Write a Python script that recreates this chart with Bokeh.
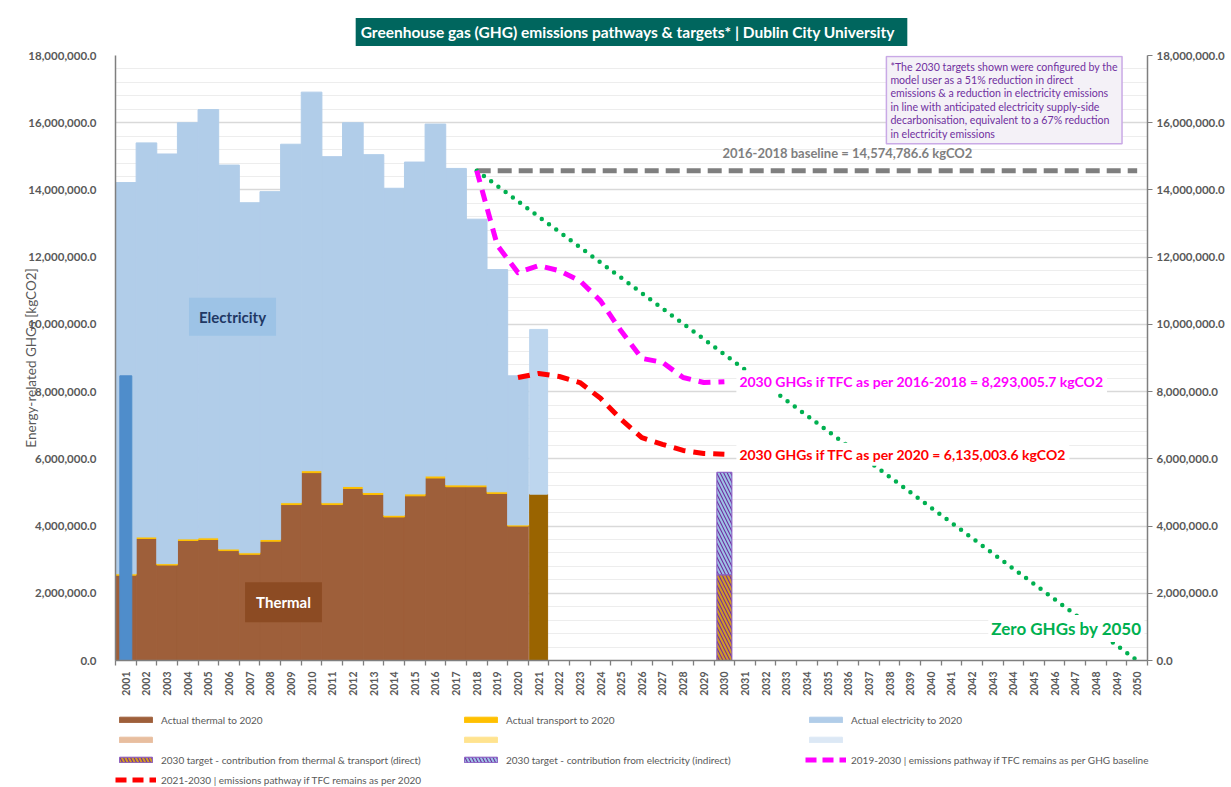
import math
from bokeh.plotting import figure
from bokeh.layouts import column
from bokeh.models import (ColumnDataSource, LinearAxis, FixedTicker, NumeralTickFormatter,
                          Label, Legend, LegendItem, Range1d)
from bokeh.embed import file_html
from bokeh.resources import INLINE

FONT = "Lato"
GRAY = "#595959"

# ---------------- data ----------------
years = [2001, 2002, 2003, 2004, 2005, 2006, 2007, 2008, 2009, 2010,
         2011, 2012, 2013, 2014, 2015, 2016, 2017, 2018, 2019, 2020]
thermal = [2540000, 3630000, 2840000, 3570000, 3600000, 3270000, 3160000, 3550000, 4640000, 5590000,
           4640000, 5120000, 4940000, 4270000, 4900000, 5430000, 5170000, 5170000, 4970000, 4000000]
transport = [40000, 45000, 42000, 48000, 50000, 47000, 46000, 52000, 55000, 58000,
             54000, 60000, 57000, 53000, 56000, 59000, 55000, 52000, 50000, 35000]
electricity = [11640000, 11725000, 12188000, 12382000, 12740000, 11423000, 10414000, 10348000, 10665000, 11262000,
               10296000, 10820000, 10053000, 9727000, 9874000, 10471000, 9415000, 7908000, 6610000, 4435000]

other_year = [2001]
other_value = [8470000]

year_2021 = [2021]
thermal_2021 = [4950000]
electricity_2021 = [4900000]

target_year = [2030]
target_direct = [2550000]
target_indirect = [3050000]

baseline_years = [2018, 2050]
baseline_values = [14574786.6, 14574786.6]

zero_years = [2018, 2050]
zero_values = [14574786.6, 0.0]

pathway_baseline_years = [2018, 2019, 2020, 2021, 2022, 2023, 2024, 2025, 2026, 2027, 2028, 2029, 2030]
pathway_baseline = [14574786.6, 12350000, 11540000, 11750000, 11600000, 11300000, 10700000,
                    9800000, 8990000, 8870000, 8420000, 8270000, 8293005.7]

pathway_2020_years = [2020, 2021, 2022, 2023, 2024, 2025, 2026, 2027, 2028, 2029, 2030]
pathway_2020 = [8420000, 8540000, 8450000, 8270000, 7800000, 7170000, 6630000, 6430000, 6250000,
                6160000, 6135003.6]

axis_years = list(range(2001, 2051))
y_major = list(range(0, 18000001, 2000000))
y_minor = list(range(0, 18000001, 400000))

# ---------------- styles ----------------
C_THERMAL = "#9E5F3A"
C_TRANSPORT = "#FFC000"
C_ELEC = "#B1CDE9"
C_PURPLE = "#7030A0"
HATCH_DIRECT = "#D39B22"
HATCH_INDIRECT = "#9DC3E6"

# ---------------- main figure ----------------
p = figure(frame_width=1032, frame_height=605,
           x_range=Range1d(2000.5, 2050.5), y_range=Range1d(0, 18000000),
           output_backend="svg", toolbar_location=None,
           min_border_left=115, min_border_top=55, min_border_right=80, min_border_bottom=0,
           background_fill_color="white", border_fill_color="white", outline_line_color=None)

# title
p.title.text = "Greenhouse gas (GHG) emissions pathways & targets*  |  Dublin City University"
p.title.align = "center"
p.title.offset = -8
p.title.text_font = FONT
p.title.text_font_size = "15.5px"
p.title.text_font_style = "bold"
p.title.text_color = "white"
p.title.background_fill_color = "#00665E"
p.title.padding = 5
p.title.standoff = 19

# grid
p.xgrid.visible = False
p.ygrid.ticker = FixedTicker(ticks=y_major, minor_ticks=y_minor)
p.ygrid.grid_line_color = "#D9D9D9"
p.ygrid.grid_line_width = 1.3
p.ygrid.minor_grid_line_color = "#EDEDED"

# left axis
p.yaxis.ticker = FixedTicker(ticks=y_major, minor_ticks=y_minor)
p.yaxis.formatter = NumeralTickFormatter(format="0,0.0")
p.yaxis.major_tick_line_color = None
p.yaxis.minor_tick_line_color = None
p.yaxis.axis_line_color = "#7F7F7F"
p.yaxis.axis_line_width = 1.5
p.yaxis.major_label_text_font = FONT
p.yaxis.major_label_text_font_size = "11.5px"
p.yaxis.major_label_text_font_style = "bold"
p.yaxis.major_label_text_color = GRAY
p.yaxis.major_label_standoff = 13
p.yaxis.axis_label = "Energy-related GHGs [kgCO2]"
p.yaxis.axis_label_text_font = FONT
p.yaxis.axis_label_text_font_size = "13.5px"
p.yaxis.axis_label_text_font_style = "normal"
p.yaxis.axis_label_text_color = GRAY
p.yaxis.axis_label_standoff = -14

# right axis
right = LinearAxis(ticker=FixedTicker(ticks=y_major, minor_ticks=y_minor),
                   formatter=NumeralTickFormatter(format="0,0.0"))
right.major_tick_out = 5
right.major_tick_in = 0
right.major_tick_line_color = "#7F7F7F"
right.minor_tick_line_color = None
right.axis_line_color = "#7F7F7F"
right.axis_line_width = 1.5
right.major_label_text_font = FONT
right.major_label_text_font_size = "11.5px"
right.major_label_text_font_style = "bold"
right.major_label_text_color = GRAY
right.major_label_standoff = 4
p.add_layout(right, "right")

# bottom axis
p.xaxis.ticker = FixedTicker(ticks=axis_years, minor_ticks=[y - 0.5 for y in axis_years] + [2050.5])
p.xaxis.major_tick_line_color = None
p.xaxis.major_tick_out = 4
p.xaxis.minor_tick_out = 5
p.xaxis.minor_tick_in = 0
p.xaxis.minor_tick_line_color = "#7F7F7F"
p.xaxis.minor_tick_line_width = 1.3
p.xaxis.axis_line_color = "#7F7F7F"
p.xaxis.axis_line_width = 1.5
p.xaxis.major_label_orientation = math.pi / 2
p.xaxis.major_label_text_font = FONT
p.xaxis.major_label_text_font_size = "10.5px"
p.xaxis.major_label_text_font_style = "bold"
p.xaxis.major_label_text_color = GRAY
p.xaxis.major_label_standoff = 6

# ---------------- bars ----------------
src = ColumnDataSource(dict(year=years, thermal=thermal, transport=transport, electricity=electricity))
p.vbar_stack(["thermal", "transport", "electricity"], x="year", width=1.0,
             color=[C_THERMAL, C_TRANSPORT, C_ELEC], source=src)

p.vbar(x=other_year, top=other_value, width=0.58, color="#4F8DCB")

src21 = ColumnDataSource(dict(year=year_2021, thermal=thermal_2021, electricity=electricity_2021))
p.vbar_stack(["thermal", "electricity"], x="year", width=0.87,
             color=["#9A6400", "#BDD6EE"], source=src21)

src30 = ColumnDataSource(dict(year=target_year, direct=target_direct, indirect=target_indirect))
p.vbar_stack(["direct", "indirect"], x="year", width=0.73, source=src30,
             fill_color=C_PURPLE, line_color="#8B5CC4", line_width=1,
             hatch_pattern="\\", hatch_color=[HATCH_DIRECT, HATCH_INDIRECT],
             hatch_scale=7, hatch_weight=2)

# ---------------- lines ----------------
p.line(baseline_years, baseline_values, line_color="#7F7F7F", line_width=5, line_dash="14 7")
p.line(zero_years, zero_values, line_color="#00B050", line_width=4.5, line_dash="0 9", line_cap="round")
p.line(pathway_baseline_years, pathway_baseline, line_color="#FF00FF", line_width=5,
       line_dash="12 8", line_join="round")
p.line(pathway_2020_years, pathway_2020, line_color="#FF0000", line_width=5,
       line_dash="12 8", line_join="round")

# ---------------- labels ----------------
def lab(**kw):
    base = dict(text_font=FONT, text_font_style="bold")
    base.update(kw)
    p.add_layout(Label(**base))

lab(x=2037.85, y=18000000, y_offset=-1,
    text=("*The 2030 targets shown were configured by the\n"
          "model user as a 51% reduction in direct\n"
          "emissions & a reduction in electricity emissions\n"
          "in line with anticipated electricity supply-side\n"
          "decarbonisation, equivalent to a 67% reduction\n"
          "in electricity emissions"),
    text_align="left", text_baseline="top", text_font_size="10.6px", text_font_style="normal",
    text_color="#7030A0", text_line_height=1.12,
    background_fill_color="#F4F1F7", border_line_color="#C9A9E6", border_line_width=1.5, padding=4)

lab(x=2030, x_offset=-2, y=baseline_values[-1], y_offset=18,
    text="2016-2018 baseline = 14,574,786.6 kgCO2", text_align="left", text_baseline="middle",
    text_font_size="13px", text_color="#7F7F7F")

lab(x=2030, x_offset=12, y=pathway_baseline[-1],
    text="2030 GHGs if TFC as per 2016-2018 = 8,293,005.7 kgCO2", text_align="left",
    text_baseline="middle", text_font_size="14px", text_color="#FF00FF",
    background_fill_color="white", padding=3)

lab(x=2030, x_offset=12, y=pathway_2020[-1],
    text="2030 GHGs if TFC as per 2020 = 6,135,003.6 kgCO2", text_align="left",
    text_baseline="middle", text_font_size="14px", text_color="#FF0000",
    background_fill_color="white", padding=3)

lab(x=2050.5, x_offset=-3, y=0, y_offset=32,
    text="Zero GHGs by 2050", text_align="right", text_baseline="middle",
    text_font_size="17px", text_color="#00B050", background_fill_color="white", padding=3)

lab(x=2006.17, y=10230000, text="Electricity", text_align="center", text_baseline="middle",
    text_font_size="15px", text_color="#1F3864", background_fill_color="#9DC3E6", padding=10)

lab(x=2008.64, y=1730000, text="Thermal", text_align="center", text_baseline="middle",
    text_font_size="15px", text_color="white", background_fill_color="#8C4B23", padding=11)

# ---------------- legend (separate strip; its renderers are hidden, only swatches show) ----------------
lg = figure(width=1231, height=92, x_range=Range1d(2000.5, 2050.5), y_range=Range1d(-20000000, -10000000),
            output_backend="svg", toolbar_location=None,
            x_axis_location=None, y_axis_location=None,
            min_border_left=0, min_border_right=0, min_border_top=14, min_border_bottom=0,
            background_fill_color="white", border_fill_color="white", outline_line_color=None)
lg.xgrid.visible = False
lg.ygrid.visible = False

g_thermal = lg.vbar(x=years, top=thermal, width=1, color=C_THERMAL)
g_transport = lg.vbar(x=years, top=transport, width=1, color=C_TRANSPORT)
g_elec = lg.vbar(x=years, top=electricity, width=1, color=C_ELEC)
g_blank1 = lg.vbar(x=year_2021, top=thermal_2021, width=1, color="#E8BE9F")
g_blank2 = lg.vbar(x=year_2021, top=thermal_2021, width=1, color="#FFE38F")
g_blank3 = lg.vbar(x=year_2021, top=electricity_2021, width=1, color="#DCE8F5")
g_direct = lg.vbar(x=target_year, top=target_direct, width=1, fill_color=C_PURPLE, line_color="#8B5CC4",
                   hatch_pattern="\\", hatch_color=HATCH_DIRECT, hatch_scale=7, hatch_weight=2)
g_indirect = lg.vbar(x=target_year, top=target_indirect, width=1, fill_color=C_PURPLE, line_color="#8B5CC4",
                     hatch_pattern="\\", hatch_color=HATCH_INDIRECT, hatch_scale=7, hatch_weight=2)
g_mag = lg.line(pathway_baseline_years, pathway_baseline, line_color="#FF00FF", line_width=5, line_dash="11 6")
g_red = lg.line(pathway_2020_years, pathway_2020, line_color="#FF0000", line_width=5, line_dash="11 6")
for r in [g_thermal, g_transport, g_elec, g_blank1, g_blank2, g_blank3, g_direct, g_indirect, g_mag, g_red]:
    r.visible = False

items = [
    LegendItem(label="Actual thermal to 2020", renderers=[g_thermal]),
    LegendItem(label="Actual transport to 2020", renderers=[g_transport]),
    LegendItem(label="Actual electricity to 2020", renderers=[g_elec]),
    LegendItem(label=" ", renderers=[g_blank1]),
    LegendItem(label=" ", renderers=[g_blank2]),
    LegendItem(label=" ", renderers=[g_blank3]),
    LegendItem(label="2030 target - contribution from thermal & transport (direct)", renderers=[g_direct]),
    LegendItem(label="2030 target - contribution from electricity (indirect)", renderers=[g_indirect]),
    LegendItem(label="2019-2030 | emissions pathway if TFC remains as per GHG baseline", renderers=[g_mag]),
    LegendItem(label="2021-2030 | emissions pathway if TFC remains as per 2020", renderers=[g_red]),
]
legend = Legend(items=items, orientation="horizontal", ncols=3, location="top_left",
                glyph_width=41, glyph_height=7, label_text_font=FONT, label_text_font_size="10px",
                label_text_color=GRAY, label_standoff=5, label_width=294, label_height=15,
                spacing=5, padding=0, margin=0, border_line_color=None, background_fill_alpha=0,
                inactive_fill_alpha=0)
lg.add_layout(legend)

layout = column(p, lg, spacing=0)
open("out.html", "w").write(file_html(layout, INLINE))
